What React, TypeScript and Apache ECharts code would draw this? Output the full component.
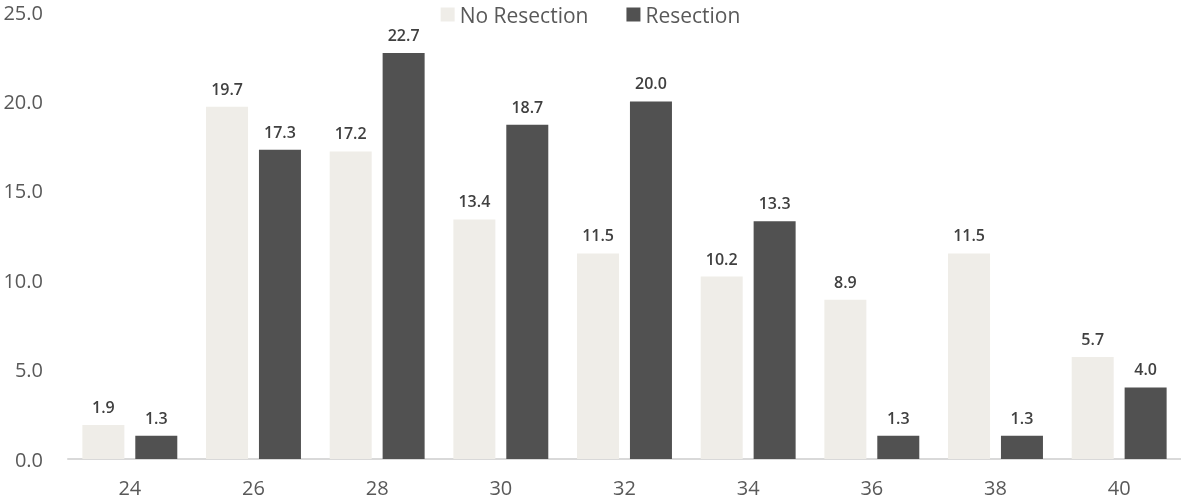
import React, { useEffect, useRef } from "react";
import * as echarts from "echarts";

const categories = ["24", "26", "28", "30", "32", "34", "36", "38", "40"];
const noResection = [1.9, 19.7, 17.2, 13.4, 11.5, 10.2, 8.9, 11.5, 5.7];
const resection = [1.3, 17.3, 22.7, 18.7, 20.0, 13.3, 1.3, 1.3, 4.0];
const seriesNames = ["No Resection", "Resection"];

export default function App() {
  const ref = useRef<HTMLDivElement>(null);
  useEffect(() => {
    const chart = echarts.init(ref.current!, null, { renderer: "svg" });
    const font = "'Open Sans', 'Noto Sans', sans-serif";
    const label = {
      show: true,
      position: "top",
      distance: 10,
      formatter: (p: any) => p.value.toFixed(1),
      color: "#404040",
      fontSize: 16,
      fontWeight: 600,
      fontFamily: font,
    };
    chart.setOption({
      animation: false,
      textStyle: { fontFamily: font },
      legend: {
        top: 4,
        left: "center",
        padding: 0,
        itemWidth: 14,
        itemHeight: 14,
        itemGap: 38,
        icon: "rect",
        textStyle: { fontSize: 21, lineHeight: 21, color: "#595959", fontFamily: font },
        data: seriesNames,
      },
      grid: { left: 68, right: 0, top: 12, bottom: 41 },
      xAxis: {
        type: "category",
        data: categories,
        axisLine: { lineStyle: { color: "#d9d9d9", width: 2 } },
        axisTick: { show: false },
        axisLabel: { fontSize: 20, color: "#595959", margin: 18, fontFamily: font },
      },
      yAxis: {
        type: "value",
        min: 0,
        max: 25,
        interval: 5,
        splitLine: { show: false },
        axisLine: { show: false },
        axisTick: { show: false },
        axisLabel: {
          fontSize: 20,
          lineHeight: 20,
          color: "#595959",
          margin: 25,
          fontFamily: font,
          formatter: (v: number) => v.toFixed(1),
        },
      },
      series: [
        {
          name: seriesNames[0],
          type: "bar",
          data: noResection,
          barWidth: 42,
          barGap: "26%",
          itemStyle: { color: "#EFEDE8" },
          label,
        },
        {
          name: seriesNames[1],
          type: "bar",
          data: resection,
          barWidth: 42,
          itemStyle: { color: "#515151" },
          label,
        },
      ],
    });
    return () => chart.dispose();
  }, []);
  return (
    <div
      ref={ref}
      style={{ position: "fixed", left: 0, top: 0, width: 1181, height: 500 }}
    />
  );
}
